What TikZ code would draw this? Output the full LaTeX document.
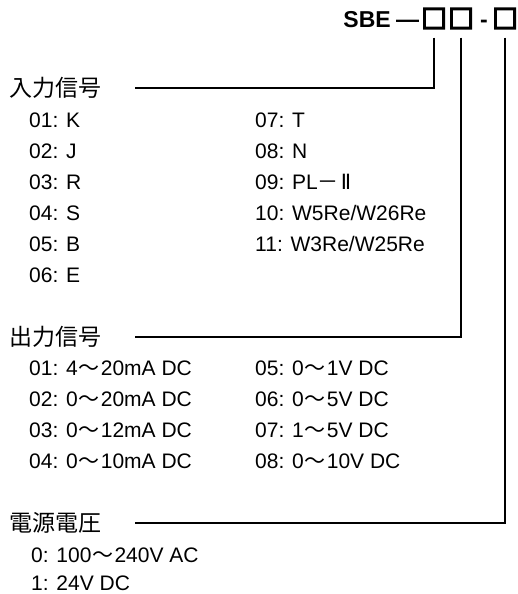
\documentclass[tikz,border=0pt]{standalone}
\usepackage{fontspec}
\setmainfont{Liberation Sans}
\newfontfamily\jpfont{Noto Sans CJK JP}
\newfontfamily\zeichenfont{DejaVu Sans}
\newfontfamily\kastenfont[FakeBold=8]{Noto Sans CJK JP}
\usetikzlibrary{positioning}
\tikzset {
kopf/.style={anchor=west,inner sep=0pt,font=\fontsize{23}{24}\selectfont\jpfont},
eintrag/.style={anchor=base west,inner sep=0pt,font=\fontsize{21}{24}\selectfont},
code/.style={anchor=base,inner sep=0pt,font=\fontsize{23}{24}\selectfont\bfseries},
kasten/.style={anchor=base,inner sep=0pt,font=\fontsize{25}{26}\selectfont\kastenfont},
leitung/.style={line width=1.4pt,shorten <=9pt,shorten >=34pt}
}
\newcommand{\kara}{\kern1pt{\jpfont 〜}\kern1pt}

\begin{document}
\begin{tikzpicture}
[x=1pt,y=-1pt]
\useasboundingbox (0,0) rectangle (517,594);
\node[kasten] (feld a) at (434,28) {□};
\node[kasten] (feld b) at (461,28) {□};
\node[code] (strich b) at (484,28) {-};
\node[kasten] (feld c) at (505,28) {□};
\node[code] (strich a) [base left=2pt of feld a] {—};
\node[code] (typ) [base left=5pt of strich a] {SBE};

\node[kopf] (eingang) at (9,88) {入力信号};
\node[eintrag] (e01) at (29,127) {01: K};
\node[eintrag] (e02) at (29,158) {02: J};
\node[eintrag] (e03) at (29,189) {03: R};
\node[eintrag] (e04) at (29,220) {04: S};
\node[eintrag] (e05) at (29,251) {05: B};
\node[eintrag] (e06) at (29,282) {06: E};
\node[eintrag] (e07) at (255,127) {07: T};
\node[eintrag] (e08) at (255,158) {08: N};
\node[eintrag] (e09) at (255,189) {09: PL{\jpfont －}\kern2pt{\zeichenfont Ⅱ}};
\node[eintrag] (e10) at (255,220) {10: W5Re/W26Re};
\node[eintrag] (e11) at (255,251) {11: W3Re/W25Re};

\node[kopf] (ausgang) at (9,337) {出力信号};
\node[eintrag] (a01) at (29,375) {01: 4\kara 20mA DC};
\node[eintrag] (a02) at (29,406) {02: 0\kara 20mA DC};
\node[eintrag] (a03) at (29,437) {03: 0\kara 12mA DC};
\node[eintrag] (a04) at (29,468) {04: 0\kara 10mA DC};
\node[eintrag] (a05) at (255,375) {05: 0\kara 1V DC};
\node[eintrag] (a06) at (255,406) {06: 0\kara 5V DC};
\node[eintrag] (a07) at (255,437) {07: 1\kara 5V DC};
\node[eintrag] (a08) at (255,468) {08: 0\kara 10V DC};

\node[kopf] (versorgung) at (9,523) {電源電圧};
\node[eintrag] (v0) at (31,562) {0: 100\kara 240V AC};
\node[eintrag] (v1) at (31,590) {1: 24V DC};

\draw[leitung] (feld a.south) |- (eingang.east);
\draw[leitung] (feld b.south) |- (ausgang.east);
\draw[leitung] (feld c.south) |- (versorgung.east);
\end{tikzpicture}
\end{document}
